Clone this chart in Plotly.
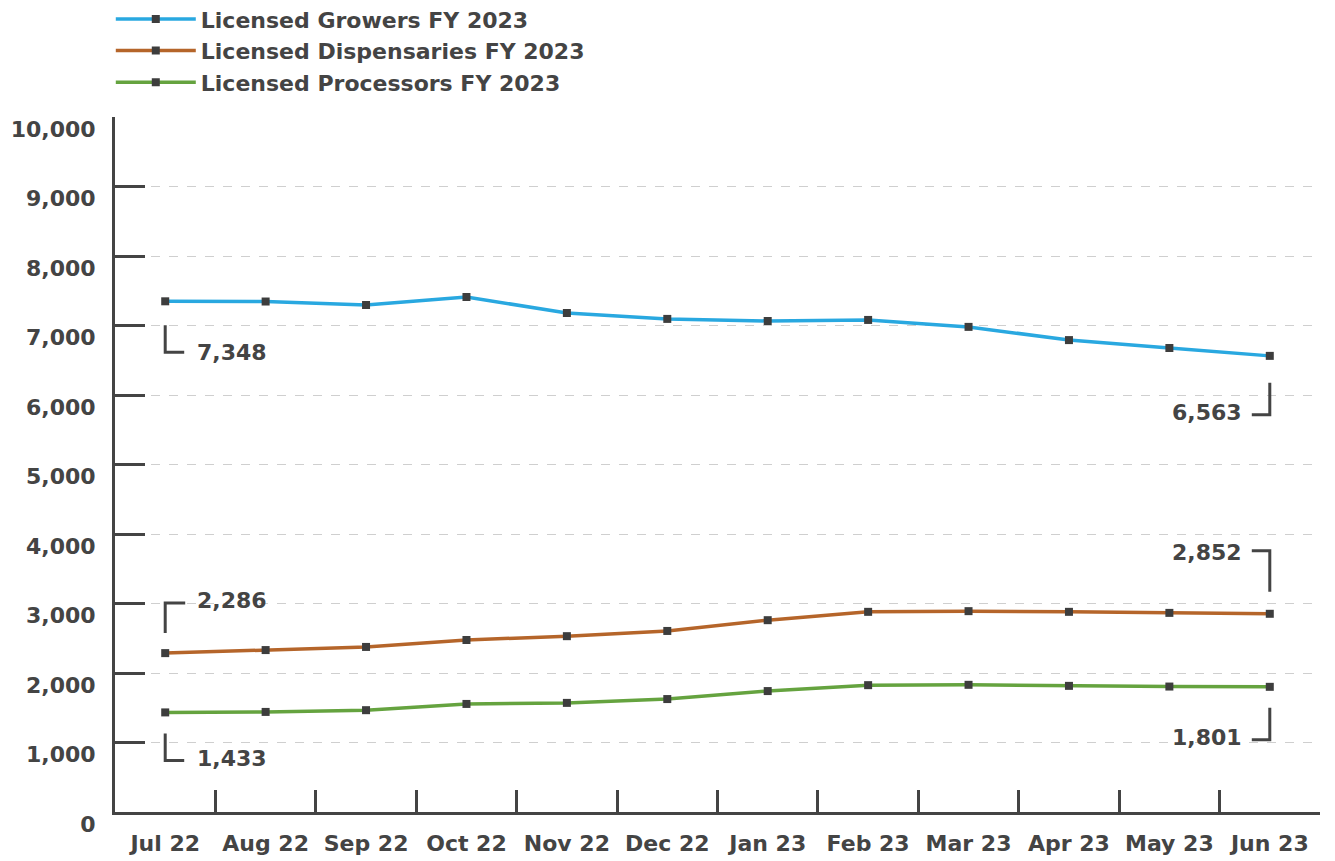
import plotly.graph_objects as go

months = ["Jul 22", "Aug 22", "Sep 22", "Oct 22", "Nov 22", "Dec 22",
          "Jan 23", "Feb 23", "Mar 23", "Apr 23", "May 23", "Jun 23"]
growers = [7348, 7345, 7295, 7410, 7180, 7095, 7065, 7080, 6980, 6790, 6676, 6563]
dispensaries = [2286, 2330, 2375, 2475, 2530, 2605, 2760, 2880, 2890, 2880, 2865, 2852]
processors = [1433, 1440, 1465, 1555, 1570, 1625, 1740, 1825, 1830, 1815, 1805, 1801]
y_ticks = [0, 1000, 2000, 3000, 4000, 5000, 6000, 7000, 8000, 9000, 10000]

names = ["Licensed Growers FY 2023", "Licensed Dispensaries FY 2023", "Licensed Processors FY 2023"]
colors = ["#29a8e0", "#b5652a", "#65a33f"]
series = [growers, dispensaries, processors]

TXT = "#444444"
FONT = "DejaVu Sans"

fig = go.Figure()
for i, (nm, col, vals) in enumerate(zip(names, colors, series)):
    fig.add_trace(go.Scatter(
        x=months, y=vals, name=nm, mode="lines+markers",
        line=dict(color=col, width=3.5),
        marker=dict(symbol="square", size=8, color="#3d3d3d"),
        legendgroup=str(i),
    ))

# end-point labels with bracket callouts (pixel offsets relative to the data point)
callouts = [
    (growers, 0, "left", 30, -51, "M0,-24 L0,-51 L19,-51"),
    (dispensaries, 0, "left", 30, 53, "M0,20 L0,50 L20,50"),
    (processors, 0, "left", 30, -46, "M0,-21 L0,-48 L19,-48"),
    (growers, 11, "right", -26, -57, "M0,-27 L0,-59 L-18,-59"),
    (dispensaries, 11, "right", -26, 61, "M0,22 L0,63 L-18,63"),
    (processors, 11, "right", -26, -51, "M0,-21 L0,-53 L-18,-53"),
]
for vals, idx, xa, xs, ys, path in callouts:
    fig.add_annotation(
        x=months[idx], y=vals[idx], xref="x", yref="y",
        text=f"{vals[idx]:,}", showarrow=False,
        xanchor=xa, yanchor="middle", xshift=xs, yshift=ys,
        font=dict(family=FONT, size=22, color=TXT, weight=700),
    )
    fig.add_shape(
        type="path", xref="x", yref="y",
        xsizemode="pixel", ysizemode="pixel",
        xanchor=months[idx], yanchor=vals[idx],
        path=path, line=dict(color=TXT, width=3),
    )

fig.update_layout(
    width=1335, height=861,
    margin=dict(l=107, r=23, t=109, b=57, autoexpand=False),
    plot_bgcolor="white", paper_bgcolor="white",
    showlegend=True,
    legend=dict(
        xref="container", yref="paper", x=0.077, y=1.171,
        xanchor="left", yanchor="top",
        font=dict(family=FONT, size=22, color=TXT, weight=700),
        itemwidth=80, tracegroupgap=0,
        bgcolor="rgba(0,0,0,0)",
    ),
)
fig.update_xaxes(
    type="category", categoryorder="array", categoryarray=months,
    range=[-0.5, 11.5], automargin=False, tickangle=0,
    showline=True, linecolor=TXT, linewidth=3,
    ticks="inside", tickson="boundaries", ticklen=22, tickwidth=3, tickcolor=TXT,
    showgrid=False, zeroline=False,
    tickfont=dict(family=FONT, size=22, color=TXT, weight=700),
    ticklabelstandoff=10,
)
fig.update_yaxes(
    range=[0, 10000], tickvals=y_ticks, ticktext=[f"{v:,}" for v in y_ticks],
    automargin=False,
    showline=True, linecolor=TXT, linewidth=3,
    ticks="inside", ticklen=30, tickwidth=3, tickcolor=TXT,
    showgrid=True, gridcolor="#cfcfcf", gridwidth=1, griddash="dash",
    zeroline=False,
    tickfont=dict(family=FONT, size=22, color=TXT, weight=700),
    ticklabelstandoff=12, ticklabelshift=12,
)

fig.write_html("out.html")
